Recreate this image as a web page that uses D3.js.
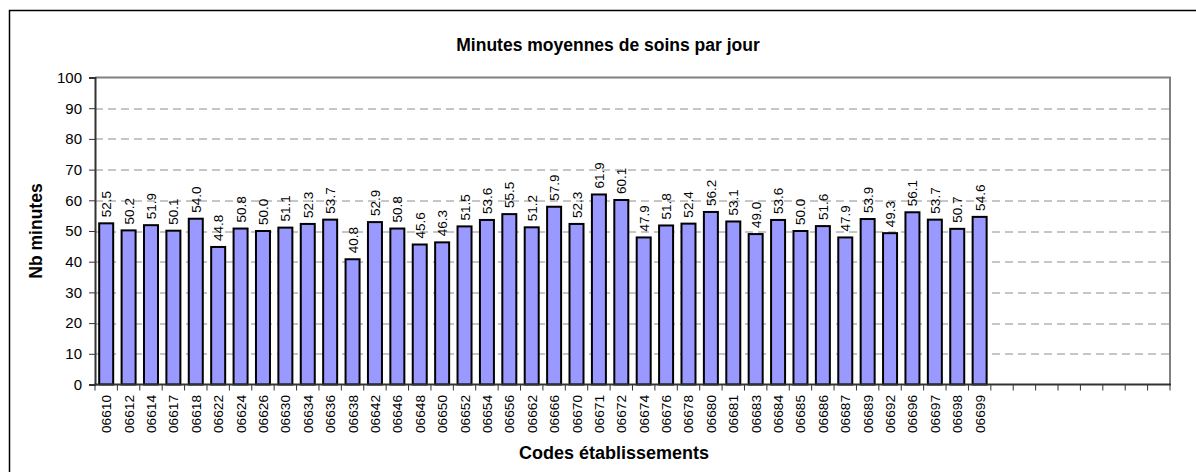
<!DOCTYPE html>
<meta charset="utf-8">
<script src="https://d3js.org/d3.v7.min.js"></script>
<style>
  body { margin: 0; background: #fff; }
  text { font-family: Arial, "Liberation Sans", sans-serif; }
</style>
<div id="chart"></div>
<script>

// data
var codes = ["06610","06612","06614","06617","06618","06622","06624","06626","06630","06634",
             "06636","06638","06642","06646","06648","06650","06652","06654","06656","06662",
             "06666","06670","06671","06672","06674","06676","06678","06680","06681","06683",
             "06684","06685","06686","06687","06689","06692","06696","06697","06698","06699"];
var minutes = [52.5,50.2,51.9,50.1,54.0,44.8,50.8,50.0,51.1,52.3,
               53.7,40.8,52.9,50.8,45.6,46.3,51.5,53.6,55.5,51.2,
               57.9,52.3,61.9,60.1,47.9,51.8,52.4,56.2,53.1,49.0,
               53.6,50.0,51.6,47.9,53.9,49.3,56.1,53.7,50.7,54.6];
var emptySlots = 8;   // axis keeps 8 empty categories on the right
var yTicks = [0,10,20,30,40,50,60,70,80,90,100];

var W = 1196, H = 472;
var margin = {top: 77.5, right: 26, bottom: 87.5, left: 95},
    width = W - margin.left - margin.right,
    height = H - margin.top - margin.bottom;

var svg = d3.select("#chart").append("svg")
    .attr("width", W).attr("height", H);

// outer frame (runs off the page right and bottom)
svg.append("rect")
  .attr("x", 9.5).attr("y", 10.5)
  .attr("width", W).attr("height", H)
  .attr("fill", "none").attr("stroke", "#000").attr("stroke-width", 1.5);

var g = svg.append("g")
  .attr("transform", "translate(" + margin.left + "," + margin.top + ")");

var slots = codes.concat(d3.range(emptySlots).map(function(i){ return "_" + i; }));

var x = d3.scaleBand().domain(slots).range([0, width]).paddingInner(0.375).paddingOuter(0.1875);
var y = d3.scaleLinear().domain([0, 100]).range([height, 0]);
var step = x.step();

// gridlines
g.selectAll(".grid").data(yTicks.filter(function(d){ return d > 0 && d < 100; }))
  .enter().append("line")
    .attr("x1", 0).attr("x2", width)
    .attr("y1", function(d){ return Math.round(y(d)) + 0.5; })
    .attr("y2", function(d){ return Math.round(y(d)) + 0.5; })
    .attr("stroke", "#8c8c8c").attr("stroke-dasharray", "8,5");

// plot area top and right borders
g.append("path")
  .attr("d", "M0," + y(100) + "H" + width + "V" + height)
  .attr("fill", "none").attr("stroke", "#808080").attr("stroke-width", 2);

// bars
g.selectAll(".bar").data(codes)
  .enter().append("rect")
    .attr("x", function(d){ return x(d); })
    .attr("y", function(d, i){ return y(minutes[i]); })
    .attr("width", x.bandwidth())
    .attr("height", function(d, i){ return height - y(minutes[i]); })
    .attr("fill", "#9999ff").attr("stroke", "#000").attr("stroke-width", 2);

// value labels
g.selectAll(".val").data(codes)
  .enter().append("text")
    .attr("transform", function(d, i){
      return "translate(" + (x(d) + x.bandwidth() / 2 + 5) + "," + (y(minutes[i]) - 6) + ") rotate(-90)";
    })
    .style("font-size", "13.5px")
    .text(function(d, i){ return minutes[i].toFixed(1); });

// y axis
var yAxis = g.append("g")
  .call(d3.axisLeft(y).tickValues(yTicks).tickSize(6).tickPadding(7));
yAxis.select(".domain").attr("stroke", "#333").attr("stroke-width", 2);
yAxis.selectAll("line").attr("stroke", "#333");
yAxis.selectAll("text").style("font-size", "15px").attr("fill", "#000")
  .style("font-family", "Arial, 'Liberation Sans', sans-serif");

// x axis: ticks at slot boundaries
var bounds = d3.range(slots.length + 1);
g.selectAll(".xtick").data(bounds)
  .enter().append("line")
    .attr("x1", function(d){ return d * step; })
    .attr("x2", function(d){ return d * step; })
    .attr("y1", height).attr("y2", height + 6)
    .attr("stroke", "#333");
g.append("line")
  .attr("x1", -1).attr("x2", width + 1)
  .attr("y1", height).attr("y2", height)
  .attr("stroke", "#333").attr("stroke-width", 2);

g.selectAll(".xlab").data(codes)
  .enter().append("text")
    .attr("transform", function(d){
      return "translate(" + (x(d) + x.bandwidth() / 2 + 5) + "," + (height + 10.5) + ") rotate(-90)";
    })
    .attr("text-anchor", "end")
    .style("font-size", "13.7px")
    .text(function(d){ return d; });

// titles
svg.append("text")
  .attr("x", 608).attr("y", 51)
  .attr("text-anchor", "middle")
  .style("font-size", "17.5px").style("font-weight", "bold")
  .text("Minutes moyennes de soins par jour");

svg.append("text")
  .attr("x", 614).attr("y", 459)
  .attr("text-anchor", "middle")
  .style("font-size", "18px").style("font-weight", "bold")
  .text("Codes établissements");

svg.append("text")
  .attr("transform", "translate(41.5,231) rotate(-90)")
  .attr("text-anchor", "middle")
  .style("font-size", "17.5px").style("font-weight", "bold")
  .text("Nb minutes");

</script>
